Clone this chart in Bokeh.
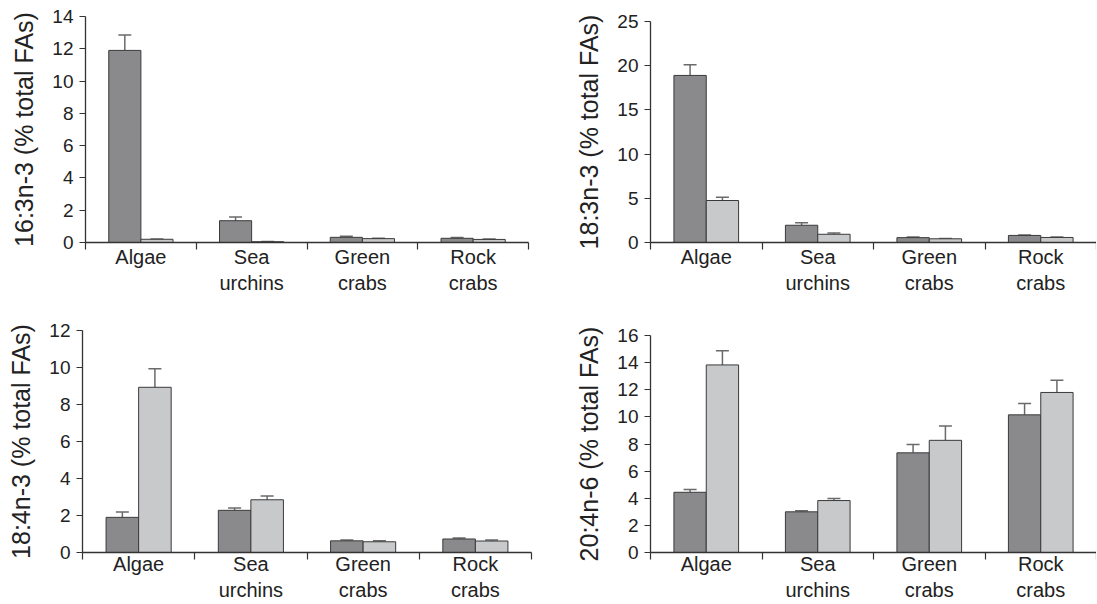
from bokeh.plotting import figure
from bokeh.models import Range1d, FixedTicker, ColumnDataSource, Whisker, TeeHead
from bokeh.layouts import column, row
from bokeh.embed import file_html
from bokeh.resources import INLINE

# ---- data ----
categories = ["Algae", "Sea urchins", "Green crabs", "Rock crabs"]
category_labels = ["Algae", "Sea\nurchins", "Green\ncrabs", "Rock\ncrabs"]

fa_163_dark = [11.9, 1.35, 0.32, 0.26]
fa_163_dark_err = [0.95, 0.23, 0.06, 0.05]
fa_163_light = [0.20, 0.05, 0.24, 0.19]
fa_163_light_err = [0.02, 0.01, 0.02, 0.02]

fa_183_dark = [18.9, 1.95, 0.55, 0.80]
fa_183_dark_err = [1.2, 0.28, 0.06, 0.05]
fa_183_light = [4.75, 0.93, 0.42, 0.57]
fa_183_light_err = [0.38, 0.14, 0.04, 0.04]

fa_184_dark = [1.90, 2.28, 0.63, 0.73]
fa_184_dark_err = [0.29, 0.12, 0.05, 0.06]
fa_184_light = [8.93, 2.85, 0.58, 0.62]
fa_184_light_err = [1.0, 0.20, 0.05, 0.05]

fa_204_dark = [4.44, 3.00, 7.35, 10.15]
fa_204_dark_err = [0.20, 0.08, 0.62, 0.83]
fa_204_light = [13.83, 3.83, 8.27, 11.80]
fa_204_light_err = [1.05, 0.16, 1.05, 0.90]

y_labels = ["16:3n-3 (% total FAs)", "18:3n-3 (% total FAs)",
            "18:4n-3 (% total FAs)", "20:4n-6 (% total FAs)"]
y_max = [14, 25, 12, 16]
y_step = [2, 5, 2, 2]

# ---- style ----
FONT = "Liberation Sans"
TXT = "#222222"
AX = "#333333"
DARK = "#8a8a8c"
LIGHT = "#c8c9cb"
BAR_W = 0.29


def make_panel(ylabel, ymax, ystep, dark, dark_err, light, light_err,
               width, height, bl, br, bt, bb, margin=(0, 0, 0, 0), xstandoff=-4):
    n = len(categories)
    p = figure(width=width, height=height, title=None,
               x_range=Range1d(0, n), y_range=Range1d(0, ymax),
               output_backend="svg", toolbar_location=None,
               min_border_left=bl, min_border_right=br,
               min_border_top=bt, min_border_bottom=bb, margin=margin)
    p.outline_line_color = None
    p.xgrid.visible = False
    p.ygrid.visible = False
    p.background_fill_color = "white"
    p.border_fill_color = "white"

    centers = [i + 0.5 for i in range(n)]
    xd = [c - BAR_W / 2 for c in centers]
    xl = [c + BAR_W / 2 for c in centers]

    src_d = ColumnDataSource(dict(x=xd, top=dark,
                                  upper=[v + e for v, e in zip(dark, dark_err)]))
    src_l = ColumnDataSource(dict(x=xl, top=light,
                                  upper=[v + e for v, e in zip(light, light_err)]))

    for src, col in ((src_d, DARK), (src_l, LIGHT)):
        p.vbar(x="x", top="top", bottom=0, width=BAR_W, source=src,
               fill_color=col, line_color="#3a3a3a", line_width=1)
        w = Whisker(source=src, base="x", lower="top", upper="upper",
                    dimension="height", line_color="#6a6a6a", line_width=1.5,
                    lower_head=None,
                    upper_head=TeeHead(size=13, line_color="#6a6a6a", line_width=1.5))
        p.add_layout(w)

    # x axis: boundary tick marks as minor ticks, category names at centres
    xa = p.xaxis[0]
    xa.ticker = FixedTicker(ticks=centers, minor_ticks=list(range(n + 1)))
    xa.major_label_overrides = {c: lab for c, lab in zip(centers, category_labels)}
    xa.major_tick_out = 0
    xa.major_tick_in = 0
    xa.minor_tick_out = 7
    xa.minor_tick_in = 0
    xa.minor_tick_line_color = AX
    xa.minor_tick_line_width = 1.2
    xa.axis_line_color = AX
    xa.axis_line_width = 1.3
    xa.major_label_standoff = xstandoff
    xa.major_label_text_font = FONT
    xa.major_label_text_font_size = "20px"
    xa.major_label_text_color = TXT

    ya = p.yaxis[0]
    ya.ticker = FixedTicker(ticks=list(range(0, ymax + 1, ystep)))
    ya.major_tick_out = 6
    ya.major_tick_in = 0
    ya.minor_tick_out = 0
    ya.minor_tick_in = 0
    ya.major_tick_line_color = AX
    ya.major_tick_line_width = 1.2
    ya.axis_line_color = AX
    ya.axis_line_width = 1.3
    ya.major_label_standoff = 6
    ya.major_label_text_font = FONT
    ya.major_label_text_font_size = "19px"
    ya.major_label_text_color = TXT
    ya.axis_label = ylabel
    ya.axis_label_text_font = FONT
    ya.axis_label_text_font_size = "25px"
    ya.axis_label_text_font_style = "normal"
    ya.axis_label_text_color = TXT
    ya.axis_label_standoff = 11
    return p


p1 = make_panel(y_labels[0], y_max[0], y_step[0], fa_163_dark, fa_163_dark_err,
                fa_163_light, fa_163_light_err, 572, 300, 85, 44, 16, 58)
p2 = make_panel(y_labels[1], y_max[1], y_step[1], fa_183_dark, fa_183_dark_err,
                fa_183_light, fa_183_light_err, 524, 295, 70, 0, 16, 56,
                margin=(5, 0, 0, 0))
p3 = make_panel(y_labels[2], y_max[2], y_step[2], fa_184_dark, fa_184_dark_err,
                fa_184_light, fa_184_light_err, 572, 303, 82, 41, 30, 51,
                xstandoff=-7)
p4 = make_panel(y_labels[3], y_max[3], y_step[3], fa_204_dark, fa_204_dark_err,
                fa_204_light, fa_204_light_err, 524, 298, 70, 0, 30, 51,
                margin=(5, 0, 0, 0), xstandoff=-7)

layout = column(row(p1, p2), row(p3, p4))

open("out.html", "w").write(file_html(layout, INLINE))
